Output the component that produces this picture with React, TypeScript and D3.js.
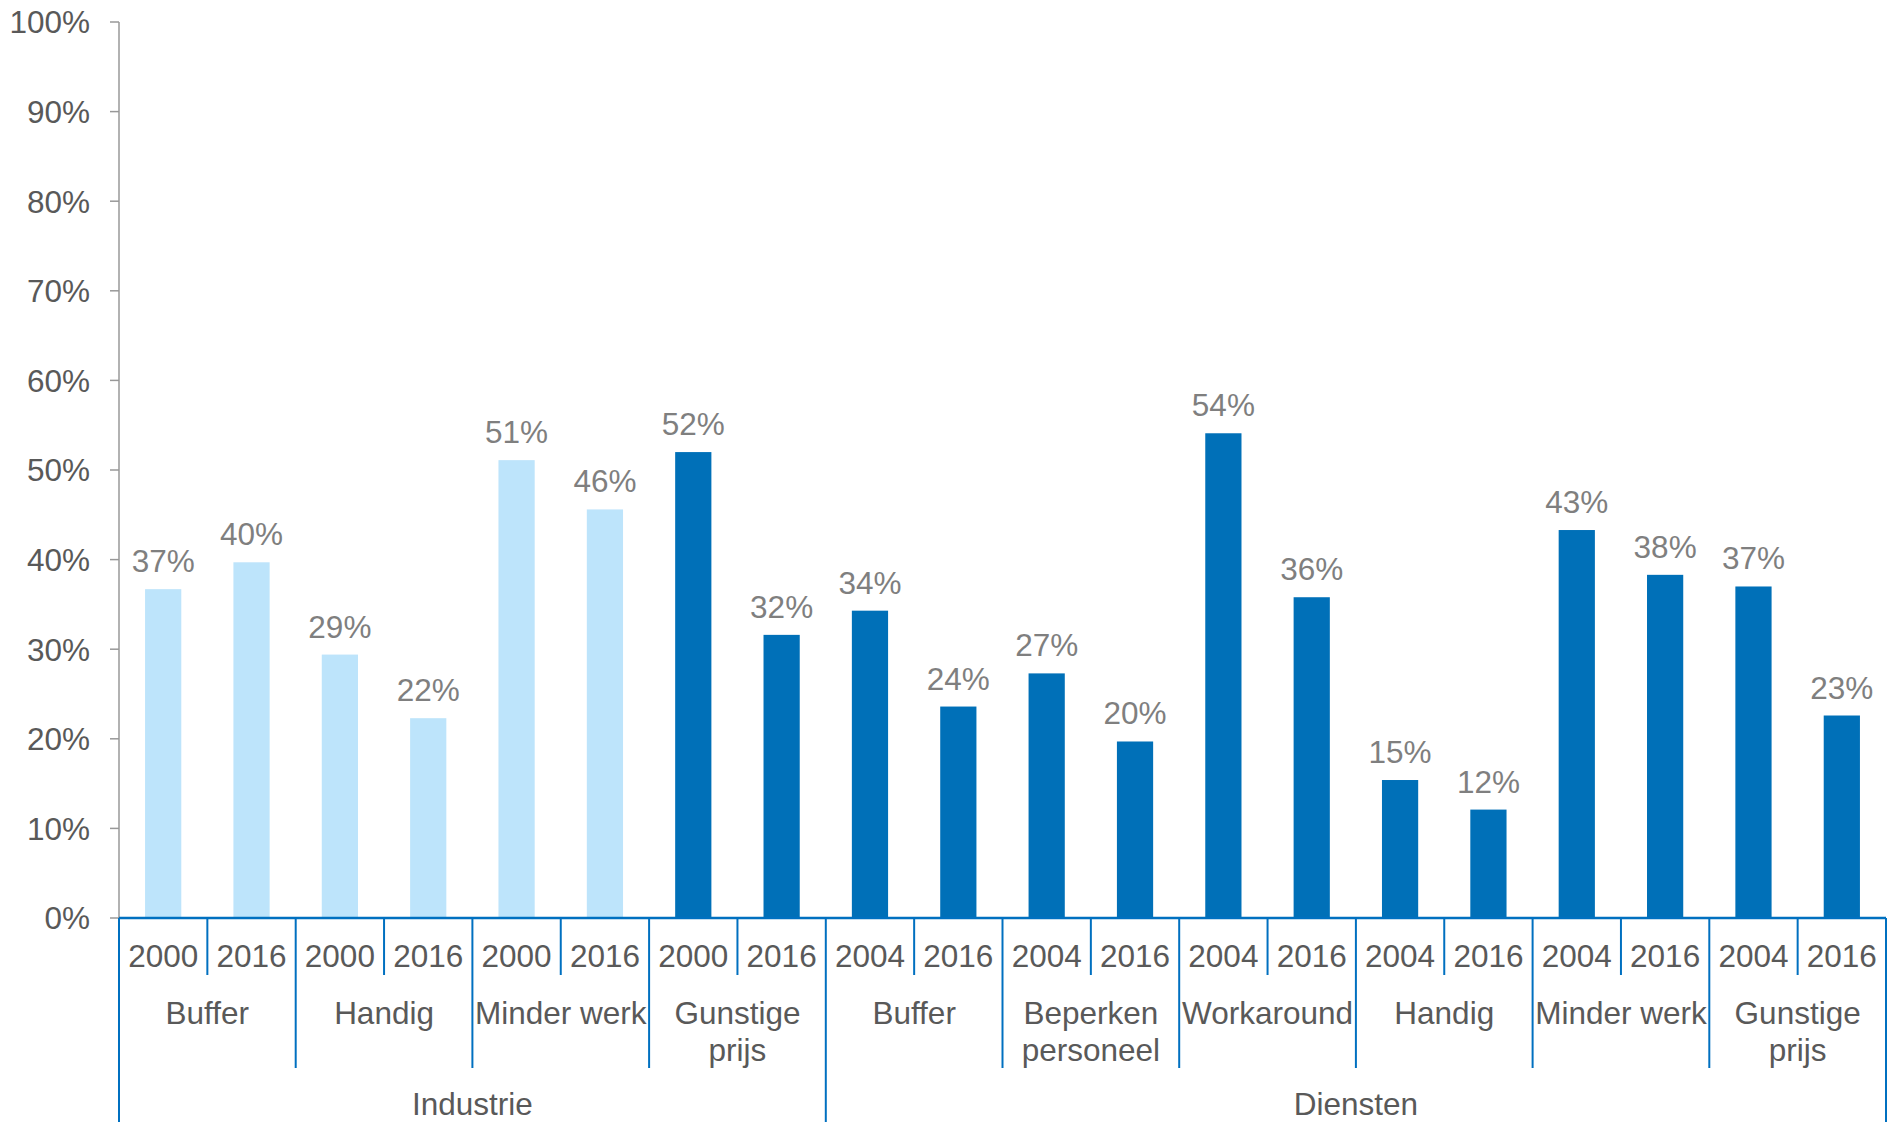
import React from 'react';
import * as d3 from 'd3';

// chart data
const sectors = ['Industrie', 'Diensten'];
const industrieTopics = ['Buffer', 'Handig', 'Minder werk', 'Gunstige\nprijs'];
const dienstenTopics = ['Buffer', 'Beperken\npersoneel', 'Workaround', 'Handig', 'Minder werk', 'Gunstige\nprijs'];
const industrieYears = ['2000', '2016'];
const dienstenYears = ['2004', '2016'];
const industrieValues = [0.367, 0.397, 0.294, 0.223, 0.511, 0.456, 0.52, 0.316];
const dienstenValues = [0.343, 0.236, 0.273, 0.197, 0.541, 0.358, 0.154, 0.121, 0.433, 0.383, 0.37, 0.226];
const yTicks = [0, 0.1, 0.2, 0.3, 0.4, 0.5, 0.6, 0.7, 0.8, 0.9, 1];

const W = 1898;
const H = 1122;
const FONT = "'Liberation Sans', Arial, sans-serif";
const FS = 31.5;
const LIGHT = '#BDE4FB';
const DARK = '#0070B8';
const AXIS_BLUE = '#0070C0';

type Bar = { key: string; sector: string; topic: string; topicIdx: number; year: string; value: number };

function buildBars(): Bar[] {
  const out: Bar[] = [];
  const add = (sector: string, topics: string[], years: string[], values: number[]) => {
    topics.forEach((t, i) => {
      years.forEach((y, j) => {
        out.push({ key: `${sector}-${i}-${y}`, sector, topic: t, topicIdx: i, year: y, value: values[i * years.length + j] });
      });
    });
  };
  add(sectors[0], industrieTopics, industrieYears, industrieValues);
  add(sectors[1], dienstenTopics, dienstenYears, dienstenValues);
  return out;
}

export default function App() {
  const bars = buildBars();
  const left = 119;
  const right = 1886;
  const y0 = 918;
  const yTop = 22;

  const x = d3.scaleBand<string>()
    .domain(bars.map(b => b.key))
    .range([left, right])
    .paddingInner(0.59)
    .paddingOuter(0.295);
  const step = x.step();
  const y = d3.scaleLinear().domain([0, 1]).range([y0, yTop]);
  const pct = d3.format('.0%');

  const color = (b: Bar) => (b.sector === 'Industrie' && !b.topic.startsWith('Gunstige') ? LIGHT : DARK);

  // band boundaries with their depth
  const slotLeft = (i: number) => left + (right - left) * i / bars.length;
  const dividers: { x: number; y2: number }[] = [];
  for (let i = 0; i <= bars.length; i++) {
    let y2 = 975;
    if (i === 0 || i === bars.length || bars[i].sector !== bars[i - 1].sector) y2 = H;
    else if (bars[i].topicIdx !== bars[i - 1].topicIdx) y2 = 1068;
    dividers.push({ x: slotLeft(i), y2 });
  }

  // topic groups
  const topicGroups: { label: string; x: number }[] = [];
  const sectorGroups: { label: string; x: number }[] = [];
  sectors.forEach(s => {
    const idx = bars.map((b, i) => (b.sector === s ? i : -1)).filter(i => i >= 0);
    sectorGroups.push({ label: s, x: (slotLeft(idx[0]) + slotLeft(idx[idx.length - 1] + 1)) / 2 });
    const topics = s === 'Industrie' ? industrieTopics : dienstenTopics;
    topics.forEach((t, ti) => {
      const ids = idx.filter(i => bars[i].topicIdx === ti);
      topicGroups.push({ label: t, x: (slotLeft(ids[0]) + slotLeft(ids[ids.length - 1] + 1)) / 2 });
    });
  });

  return (
    <svg width={W} height={H} style={{ position: 'absolute', left: 0, top: 0, background: '#fff' }} fontFamily={FONT}>
      {/* y axis */}
      <line x1={left} x2={left} y1={yTop} y2={y0} stroke="#989898" strokeWidth={1.5} />
      {yTicks.map(t => (
        <g key={t}>
          <line x1={110} x2={left} y1={y(t)} y2={y(t)} stroke="#989898" strokeWidth={1.5} />
          <text x={90} y={y(t)} dy="0.36em" textAnchor="end" fontSize={FS} fill="#595959">{pct(t)}</text>
        </g>
      ))}

      {/* bars */}
      {bars.map(b => (
        <g key={b.key}>
          <rect x={x(b.key)} y={y(b.value)} width={x.bandwidth()} height={y0 - y(b.value)} fill={color(b)} />
          <text x={(x(b.key) ?? 0) + x.bandwidth() / 2} y={y(b.value) - 17} textAnchor="middle" fontSize={FS} fill="#7F7F7F">
            {pct(b.value)}
          </text>
        </g>
      ))}

      {/* category axis */}
      <line x1={left} x2={right} y1={y0} y2={y0} stroke={AXIS_BLUE} strokeWidth={2.5} />
      {dividers.map((d, i) => (
        <line key={i} x1={d.x} x2={d.x} y1={y0} y2={d.y2} stroke={AXIS_BLUE} strokeWidth={2} />
      ))}
      {bars.map((b, i) => (
        <text key={b.key + '-yr'} x={slotLeft(i) + step / 2} y={967} textAnchor="middle" fontSize={FS} fill="#595959">
          {b.year}
        </text>
      ))}
      {topicGroups.map((g, i) => (
        <text key={'tg' + i} x={g.x} y={1024} textAnchor="middle" fontSize={FS} fill="#595959">
          {g.label.split('\n').map((line, li) => (
            <tspan key={li} x={g.x} dy={li === 0 ? 0 : 37}>{line}</tspan>
          ))}
        </text>
      ))}
      {sectorGroups.map(g => (
        <text key={g.label} x={g.x} y={1115} textAnchor="middle" fontSize={FS} fill="#595959">{g.label}</text>
      ))}
    </svg>
  );
}
